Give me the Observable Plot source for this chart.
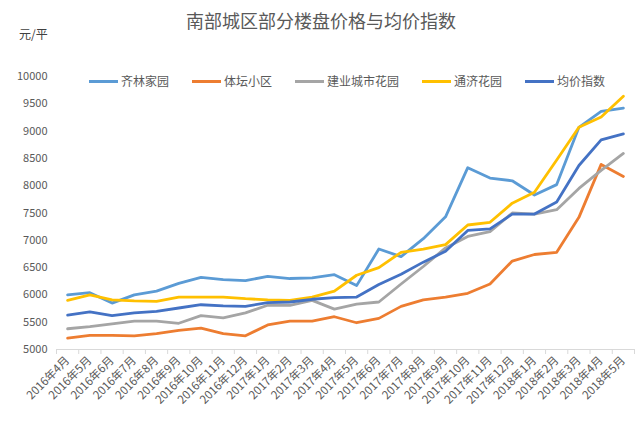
<!DOCTYPE html>
<html>
<head>
<meta charset="utf-8">
<script src="https://cdn.jsdelivr.net/npm/d3@7"></script>
<script src="https://cdn.jsdelivr.net/npm/@observablehq/plot@0.6"></script>
<style>
  html, body { margin: 0; padding: 0; background: #fff; }
  body { font-family: "Noto Sans CJK SC", "Noto Sans", sans-serif; }
  #wrap { position: relative; width: 642px; height: 441px; overflow: hidden; }
  #title { position: absolute; left: 0; width: 642px; top: 7px; text-align: center; font-size: 18px; color: #595959; line-height: 26px; }
  #unit { position: absolute; left: 19px; top: 26px; font-size: 12px; color: #404040; line-height: 16px; }
  #legend { position: absolute; top: 72px; left: 89px; display: flex; align-items: center; font-size: 12px; color: #595959; line-height: 18px; }
  .item { display: flex; align-items: center; margin-right: 23px; }
  .sw { width: 29px; height: 3px; margin-right: 3px; }
  #chart { position: absolute; left: 0; top: 0; }
</style>
</head>
<body>
<div id="wrap">
  <div id="chart"></div>
  <div id="title">南部城区部分楼盘价格与均价指数</div>
  <div id="unit">元/平</div>
  <div id="legend"></div>
</div>
<script>
const months = ["2016年4月","2016年5月","2016年6月","2016年7月","2016年8月","2016年9月","2016年10月","2016年11月","2016年12月","2017年1月","2017年2月","2017年3月","2017年4月","2017年5月","2017年6月","2017年7月","2017年8月","2017年9月","2017年10月","2017年11月","2017年12月","2018年1月","2018年2月","2018年3月","2018年4月","2018年5月"];
const seriesNames = ["齐林家园","体坛小区","建业城市花园","通济花园","均价指数"];
const seriesColors = ["#5B9BD5","#ED7D31","#A5A5A5","#FFC000","#4472C4"];
const qilin   = [6000,6040,5850,6000,6070,6210,6320,6280,6260,6340,6300,6310,6370,6170,6840,6700,7030,7430,8330,8140,8090,7830,8020,9070,9360,9420];
const titan   = [5210,5260,5260,5250,5290,5350,5390,5290,5250,5450,5520,5520,5600,5490,5570,5790,5910,5960,6030,6200,6620,6740,6780,7420,8390,8170];
const jianye  = [5380,5420,5470,5520,5520,5480,5620,5580,5670,5810,5810,5900,5740,5830,5870,6200,6520,6860,7070,7160,7500,7480,7560,7950,8280,8590];
const tongji  = [5900,6000,5910,5890,5880,5960,5960,5960,5930,5910,5900,5960,6070,6360,6500,6780,6840,6920,7280,7330,7680,7880,8470,9070,9260,9640];
const junjia  = [5630,5690,5620,5670,5700,5760,5820,5800,5790,5860,5870,5920,5950,5960,6190,6380,6600,6800,7180,7210,7480,7480,7700,8370,8840,8950];
const yTicks = [5000,5500,6000,6500,7000,7500,8000,8500,9000,9500,10000];

const allValues = [qilin, titan, jianye, tongji, junjia];
const data = [];
allValues.forEach((vals, k) => vals.forEach((v, i) => data.push({i, v, s: seriesNames[k]})));
const idx = months.map((m, i) => i);
const bounds = [...idx.map(i => i - 0.5), months.length - 0.5];

const chart = Plot.plot({
  width: 642,
  height: 441,
  marginTop: 76,
  marginBottom: 92,
  marginLeft: 56,
  marginRight: 8,
  style: {fontFamily: "'Noto Sans CJK SC', 'Noto Sans', sans-serif", background: "transparent"},
  x: {type: "linear", domain: [-0.5, months.length - 0.5], axis: null, label: null},
  y: {domain: [5000, 10000], axis: null, label: null},
  color: {domain: seriesNames, range: seriesColors},
  marks: [
    Plot.axisY(yTicks, {label: null, tickSize: 0, tickPadding: 9, fontSize: 11, fill: "#595959", tickFormat: d => String(d)}),
    Plot.ruleY([5000], {stroke: "#D9D9D9", strokeWidth: 1}),
    Plot.axisX(bounds, {label: null, tickSize: 5, tickFormat: () => "", stroke: "#D9D9D9", strokeOpacity: 1}),
    Plot.axisX(idx, {label: null, tickSize: 0, tickPadding: 9, tickRotate: -45, fontSize: 11.5, fill: "#595959", tickFormat: i => months[i]}),
    Plot.line(data, {x: "i", y: "v", z: "s", stroke: "s", strokeWidth: 2.8, strokeLinejoin: "round", strokeLinecap: "round"})
  ]
});
document.getElementById("chart").appendChild(chart);

const legend = document.getElementById("legend");
seriesNames.forEach((n, k) => {
  const it = document.createElement("div");
  it.className = "item";
  const sw = document.createElement("div");
  sw.className = "sw";
  sw.style.background = seriesColors[k];
  const t = document.createElement("span");
  t.textContent = n;
  it.appendChild(sw); it.appendChild(t);
  legend.appendChild(it);
});
</script>
</body>
</html>
